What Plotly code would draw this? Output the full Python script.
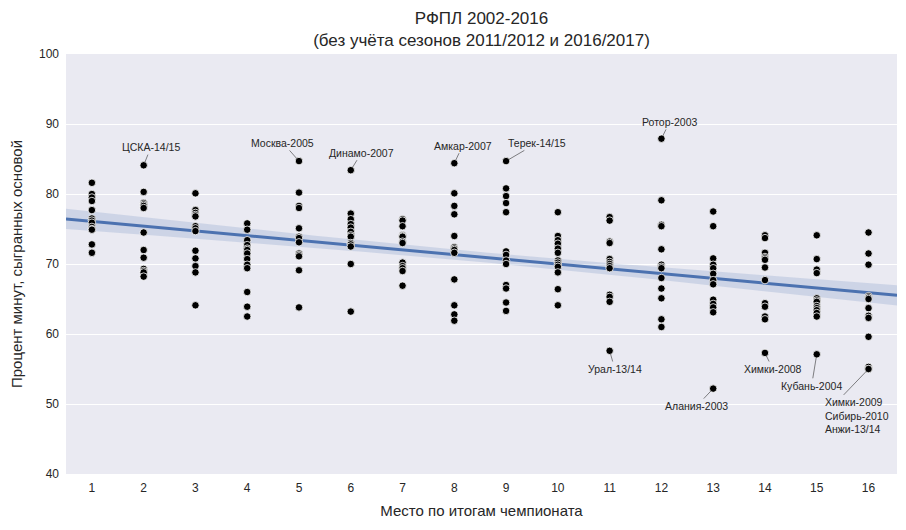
import numpy as np
import plotly.graph_objects as go

# --- data: percent of minutes played by the core squad, by final league place ---
places = list(range(1, 17))
p1 = [81.6, 80.0, 79.5, 79.0, 77.7, 76.5, 76.2, 75.9, 75.3, 75.0, 74.9, 72.8, 71.6]
p2 = [84.1, 80.3, 78.7, 78.5, 78.3, 78.0, 74.5, 72.0, 70.9, 69.3, 69.0, 68.8, 68.2]
p3 = [80.1, 77.7, 77.3, 77.0, 76.8, 75.4, 75.1, 74.7, 71.9, 70.8, 69.7, 68.8, 64.1]
p4 = [75.8, 74.9, 73.4, 72.7, 72.2, 72.0, 71.5, 70.7, 69.9, 69.4, 66.0, 63.9, 62.5]
p5 = [84.7, 80.2, 78.3, 78.0, 75.1, 73.9, 73.7, 73.1, 71.5, 71.3, 71.1, 69.1, 63.8]
p6 = [83.4, 77.2, 76.4, 75.7, 75.2, 74.6, 74.1, 73.9, 73.0, 72.8, 72.5, 70.0, 63.2]
p7 = [76.4, 76.2, 75.4, 74.1, 74.0, 73.9, 73.2, 73.0, 70.2, 69.7, 69.4, 69.0, 66.9]
p8 = [84.4, 80.1, 78.3, 77.1, 74.0, 72.4, 72.2, 72.0, 71.6, 67.8, 64.1, 62.8, 61.9]
p9 = [84.7, 80.8, 79.7, 78.7, 77.4, 71.8, 71.3, 70.5, 70.0, 67.0, 66.5, 64.5, 63.3]
p10 = [77.4, 74.0, 73.4, 72.9, 72.2, 71.6, 70.5, 70.2, 69.9, 69.6, 68.8, 66.4, 64.1]
p11 = [76.7, 76.2, 73.2, 73.0, 70.7, 70.3, 70.0, 69.7, 69.4, 65.6, 65.3, 64.6, 57.6]
p12 = [87.9, 79.1, 75.6, 75.4, 72.1, 69.9, 69.6, 69.4, 68.0, 66.5, 65.1, 62.1, 61.0]
p13 = [77.5, 75.4, 70.8, 69.9, 69.4, 68.6, 67.7, 67.1, 64.9, 64.3, 63.8, 63.1, 52.2]
p14 = [74.1, 73.7, 71.6, 71.0, 70.8, 70.6, 69.5, 67.7, 64.4, 63.9, 62.5, 62.1, 57.3]
p15 = [74.1, 70.7, 69.2, 68.7, 65.1, 64.8, 64.6, 64.0, 63.7, 63.4, 63.0, 62.5, 57.1]
p16 = [74.5, 71.5, 69.9, 65.4, 65.2, 65.0, 63.7, 62.6, 62.3, 59.6, 55.3, 55.0, 55.0]
values_by_place = [p1, p2, p3, p4, p5, p6, p7, p8, p9, p10, p11, p12, p13, p14, p15, p16]

label_names = ["ЦСКА-14/15", "Москва-2005", "Динамо-2007", "Амкар-2007", "Терек-14/15",
               "Ротор-2003", "Урал-13/14", "Алания-2003", "Химки-2008", "Кубань-2004",
               "Химки-2009<br>Сибирь-2010<br>Анжи-13/14"]
label_place = [2, 5, 6, 8, 9, 12, 11, 13, 14, 15, 16]
label_value = [84.1, 84.7, 83.4, 84.4, 84.7, 87.9, 57.6, 52.2, 57.3, 57.1, 55.0]

title_text = "РФПЛ 2002-2016<br>(без учёта сезонов 2011/2012 и 2016/2017)"
x_title = "Место по итогам чемпионата"
y_title = "Процент минут, сыгранных основой"

# --- build flat arrays ---
xs = np.concatenate([[pl] * len(v) for pl, v in zip(places, values_by_place)]).astype(float)
ys = np.concatenate(values_by_place).astype(float)

# --- linear regression + 95% CI ---
n = len(xs)
slope, intercept = np.polyfit(xs, ys, 1)
resid = ys - (slope * xs + intercept)
s = np.sqrt(np.sum(resid ** 2) / (n - 2))
xbar = xs.mean()
sxx = np.sum((xs - xbar) ** 2)
xr = (0.5, 16.55)
xg = np.linspace(xr[0], xr[1], 100)
yg = slope * xg + intercept
se = s * np.sqrt(1.0 / n + (xg - xbar) ** 2 / sxx)
t = 1.97
lo, hi = yg - t * se, yg + t * se

blue = "#4C72B0"
fig = go.Figure()
fig.add_trace(go.Scatter(x=np.concatenate([xg, xg[::-1]]), y=np.concatenate([hi, lo[::-1]]),
                         fill="toself", fillcolor="rgba(76,114,176,0.18)", line=dict(width=0),
                         hoverinfo="skip", showlegend=False))
fig.add_trace(go.Scatter(x=xg, y=yg, mode="lines", line=dict(color=blue, width=3), showlegend=False))
fig.add_trace(go.Scatter(x=xs, y=ys, mode="markers",
                         marker=dict(color="black", size=7.5, line=dict(color="white", width=0.8)),
                         showlegend=False))

# text offsets (in data units) for the labels
offs = [(0.14, 2.6), (-0.31, 2.6), (0.21, 2.5), (0.16, 2.5), (0.60, 2.6), (0.16, 2.4),
        (0.10, -2.6), (-0.32, -2.5), (0.15, -2.3), (-0.10, -4.5)]
ann = []
for i, (nm, pl, v) in enumerate(zip(label_names, label_place, label_value)):
    if i < len(offs):
        dx, dy = offs[i]
        ann.append(dict(x=pl, y=v, ax=pl + dx, ay=v + dy, axref="x", ayref="y", text=nm,
                        showarrow=True, arrowhead=0, arrowwidth=0.6, arrowcolor="#333",
                        standoff=3, font=dict(size=10.5, color="#262626")))
    else:
        ann.append(dict(x=pl, y=v, ax=pl - 0.87, ay=v - 6.7, axref="x", ayref="y", text=nm,
                        xanchor="left", align="left",
                        showarrow=True, arrowhead=0, arrowwidth=0.6, arrowcolor="#333",
                        standoff=3, font=dict(size=10.5, color="#262626")))

fig.update_layout(
    width=898, height=522,
    margin=dict(l=58, r=9, t=46, b=56),
    paper_bgcolor="white", plot_bgcolor="#EAEAF2",
    font=dict(family="Liberation Sans, Arial, sans-serif", color="#262626"),
    title=dict(text=title_text, xref="paper", x=0.5, xanchor="center",
               yref="container", y=0.969, yanchor="top",
               font=dict(size=17, color="#262626")),
    annotations=ann,
)
fig.update_xaxes(range=list(xr), tickmode="array", tickvals=places, ticktext=[str(p) for p in places],
                 showgrid=False, zeroline=False, showline=False, ticks="", ticklabelstandoff=5,
                 tickfont=dict(size=12), title=dict(text=x_title, font=dict(size=15), standoff=11))
fig.update_yaxes(range=[40, 100], dtick=10, gridcolor="white", gridwidth=1, zeroline=False,
                 showline=False, ticks="", tickfont=dict(size=12), ticklabelstandoff=6,
                 title=dict(text=y_title, font=dict(size=15), standoff=12))

fig.write_html("out.html")
